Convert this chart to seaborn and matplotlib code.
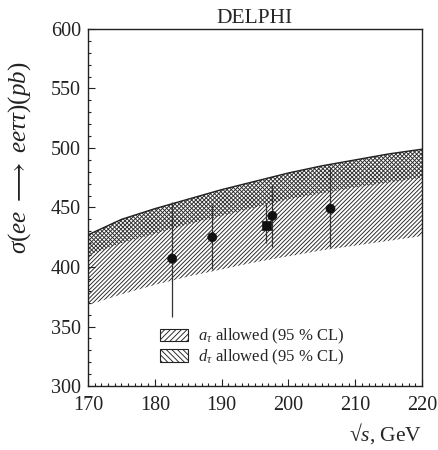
import matplotlib
matplotlib.use("Agg")
import matplotlib.pyplot as plt
import seaborn as sns
import numpy as np
import pandas as pd
from matplotlib.patches import Patch

# Data
sqrt_s = [170, 175, 180, 185, 190, 195, 200, 205, 210, 215, 220]
band_top = [427, 440, 449, 457, 465, 472, 479, 485, 490, 495, 499]
d_lower = [410, 420, 428, 436, 443, 450, 457, 462, 467, 471, 475]
a_lower = [368, 377, 385, 392, 398, 404, 409, 414, 418, 422, 426]

pt_x = [182.6, 188.6, 196.7, 197.6, 206.3]
pt_y = [407, 425, 435, 443, 449]
pt_lo = [358, 398, 420, 417, 417]
pt_hi = [455, 452, 454, 469, 484]
pt_marker = ["o", "o", "s", "o", "o"]

title = "DELPHI"
xticks = [170, 180, 190, 200, 210, 220]
yticks = [300, 350, 400, 450, 500, 550, 600]

sns.set_style("ticks")
plt.rcParams["font.family"] = ["Liberation Serif", "DejaVu Serif"]
plt.rcParams["mathtext.fontset"] = "custom"
plt.rcParams["mathtext.rm"] = "Liberation Serif"
plt.rcParams["mathtext.it"] = "Liberation Serif:italic"
plt.rcParams["mathtext.bf"] = "Liberation Serif:bold"
plt.rcParams["hatch.linewidth"] = 0.65

fig = plt.figure(figsize=(4.38, 4.5), dpi=100)
ax = fig.add_axes([0.2009, 0.1422, 0.7626, 0.7934])

# bands
ax.fill_between(sqrt_s, a_lower, band_top, facecolor="none", edgecolor="#222222",
                hatch="////////", linewidth=0)
ax.fill_between(sqrt_s, d_lower, band_top, facecolor="none", edgecolor="#222222",
                hatch="\\\\\\\\\\\\\\\\", linewidth=0)
band_df = pd.DataFrame({"x": sqrt_s, "y": band_top})
sns.lineplot(data=band_df, x="x", y="y", ax=ax, color="#222222", linewidth=1.0)

# error bars
for x, y, lo, hi in zip(pt_x, pt_y, pt_lo, pt_hi):
    ax.errorbar([x], [y], yerr=[[y - lo], [hi - y]], fmt="none",
                ecolor="#333333", elinewidth=0.9, capsize=0)

pts = pd.DataFrame({"x": pt_x, "y": pt_y, "m": pt_marker})
sns.scatterplot(data=pts, x="x", y="y", style="m", markers={"o": "o", "s": "s"},
                color="#111111", s=42, edgecolor="#111111", ax=ax, legend=False, zorder=5)

ax.set_xlim(170, 220)
ax.set_ylim(300, 600)
ax.set_xticks(xticks)
ax.set_yticks(yticks)
ax.set_xticks(np.arange(170, 221, 1), minor=True)
ax.set_yticks(np.arange(300, 601, 10), minor=True)
ax.tick_params(axis="both", which="both", direction="in", top=False, right=False,
               labelsize=14.5, width=0.8, colors="#222222")
ax.tick_params(which="major", length=5)
ax.tick_params(which="minor", length=2.5)
ax.tick_params(axis="x", pad=7)
ax.tick_params(axis="y", pad=5)
for sp in ax.spines.values():
    sp.set_linewidth(1.0)
    sp.set_color("#222222")
    sp.set_visible(True)

ax.set_xlabel("")
ax.set_ylabel(r"$\sigma(ee\ \longrightarrow\ ee\tau\tau)(pb)$", fontsize=18,
              color="#222222")
ax.yaxis.set_label_coords(-0.165, 0.64)
ax.set_title(title, fontsize=15.5, pad=4)
fig.text(0.9635, 0.008, r"√$s$, GeV", ha="right", va="bottom", fontsize=15.5)

handles = [Patch(facecolor="white", edgecolor="#222222", hatch="//////", linewidth=0.8),
           Patch(facecolor="white", edgecolor="#222222", hatch="\\\\\\\\\\\\", linewidth=0.8)]
labels = [r"$a_\tau$ allowed (95 % CL)", r"$d_\tau$ allowed (95 % CL)"]
ax.legend(handles, labels, loc="lower left", bbox_to_anchor=(0.195, 0.035), frameon=False,
          fontsize=12, handlelength=1.7, handleheight=0.8, handletextpad=0.6,
          labelspacing=0.08, borderaxespad=0)

fig.savefig("out.png", dpi=100)
